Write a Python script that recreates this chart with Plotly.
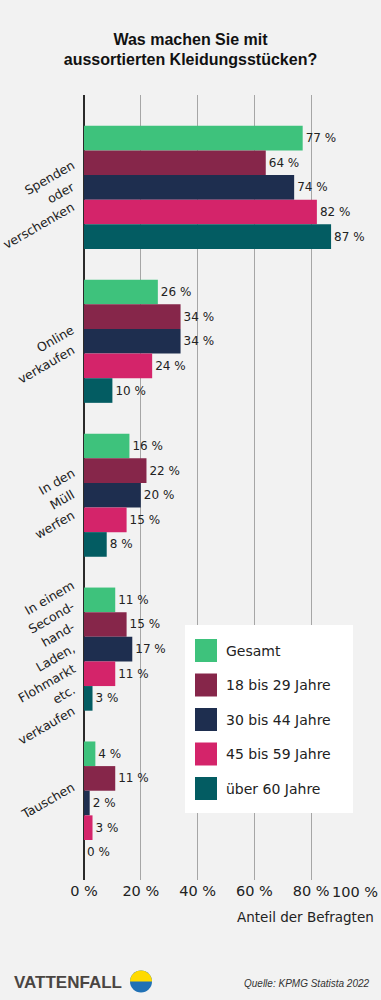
import plotly.graph_objects as go

categories = [
    "Spenden<br>oder<br>verschenken",
    "Online<br>verkaufen",
    "In den<br>Müll<br>werfen",
    "In einem<br>Second-<br>hand-<br>Laden,<br>Flohmarkt<br>etc.<br>verkaufen",
    "Tauschen",
]
series_names = ["Gesamt", "18 bis 29 Jahre", "30 bis 44 Jahre", "45 bis 59 Jahre", "über 60 Jahre"]
gesamt = [77, 26, 16, 11, 4]
j18_29 = [64, 34, 22, 15, 11]
j30_44 = [74, 34, 20, 17, 2]
j45_59 = [82, 24, 15, 11, 3]
ueber60 = [87, 10, 8, 3, 0]
series_values = [gesamt, j18_29, j30_44, j45_59, ueber60]
colors = ["#3ec27c", "#86264a", "#1e2e4f", "#d4246a", "#035c62"]
x_ticks = [0, 20, 40, 60, 80, 100]
x_ticktext = ["0 %", "20 %", "40 %", "60 %", "80 %", "100 %"]

FONT = "'DejaVu Sans', Verdana, sans-serif"
BOLD = "'Liberation Sans', Arial, sans-serif"
BG = "#f2f2f2"
TXT = "#222222"

W, H = 381, 1000
ML, MR, MT, MB = 84, 13, 95, 120
PW, PH = W - ML - MR, H - MT - MB


def px(xp):
    return (xp - ML) / PW


def py(yp):
    return (H - MB - yp) / PH


fig = go.Figure()
for name, vals, col in zip(series_names, series_values, colors):
    fig.add_trace(go.Bar(
        y=categories, x=vals, name=name, orientation="h",
        marker=dict(color=col, line=dict(width=0)),
        text=[f"{v} %" for v in vals], textposition="outside",
        textfont=dict(family=FONT, size=12, color=TXT),
        cliponaxis=False, showlegend=False,
    ))

# last tick label is drawn separately (right-aligned so it stays inside the frame)
shown_ticktext = x_ticktext[:-1] + [""]

fig.update_layout(
    width=W, height=H,
    paper_bgcolor=BG, plot_bgcolor=BG,
    margin=dict(l=ML, r=MR, t=MT, b=MB),
    barmode="group", bargap=0.2, bargroupgap=0,
    font=dict(family=FONT, color=TXT),
    title=dict(
        text="<b>Was machen Sie mit<br>aussortierten Kleidungsstücken?</b>",
        x=0.5, xanchor="center", y=0.9555, yanchor="middle",
        font=dict(family=BOLD, size=16, color="#111111"),
    ),
    xaxis=dict(
        range=[0, 100], tickvals=x_ticks, ticktext=shown_ticktext,
        showgrid=True, gridcolor="#a6a6a6", gridwidth=1,
        zeroline=True, zerolinecolor="#2a2a2a", zerolinewidth=1.5,
        tickfont=dict(family=FONT, size=14.5, color=TXT),
        ticks="", fixedrange=True,
    ),
    yaxis=dict(
        autorange=False, range=[4.5, -0.6],
        showticklabels=False, ticks="", showgrid=False, zeroline=False,
    ),
    showlegend=False,
)

fig.add_annotation(
    text=x_ticktext[-1], xref="x", yref="paper", x=x_ticks[-1], y=py(892),
    xanchor="right", yanchor="middle", xshift=12, showarrow=False,
    font=dict(family=FONT, size=14.5, color=TXT),
)

# category labels: each line rotated -30 deg, right ends aligned vertically
LINE_PITCH = 21
BOX_H = 18
for cat in categories:
    lines = cat.split("<br>")
    n = len(lines)
    c = -4 if n > 1 else -19
    for k, line in enumerate(lines):
        off = c + (k - (n - 1) / 2) * LINE_PITCH
        fig.add_annotation(
            text=line, xref="paper", yref="y", x=px(80), y=cat,
            xanchor="right", yanchor="top", showarrow=False, textangle=-30,
            yshift=0.433 * BOX_H - off,
            font=dict(family=FONT, size=12.5, color=TXT),
        )

# legend (drawn to match the reference's large swatches)
fig.add_shape(type="rect", xref="paper", yref="paper",
              x0=px(185), x1=px(353), y0=py(625), y1=py(813),
              fillcolor="#ffffff", line=dict(width=0), layer="above")
for i, (name, col) in enumerate(zip(series_names, colors)):
    top = 639 + i * 34.5
    fig.add_shape(type="rect", xref="paper", yref="paper",
                  x0=px(195), x1=px(217), y0=py(top), y1=py(top + 23),
                  fillcolor=col, line=dict(width=0), layer="above")
    fig.add_annotation(
        text=name, xref="paper", yref="paper", x=px(224), y=py(top + 11.5),
        xanchor="left", yanchor="middle", showarrow=False,
        font=dict(family=FONT, size=14, color=TXT),
    )

fig.add_annotation(
    text="Anteil der Befragten", xref="paper", yref="paper",
    x=px(376), y=py(917), xanchor="right", yanchor="middle", showarrow=False,
    font=dict(family=FONT, size=13.5, color=TXT),
)
fig.add_annotation(
    text="<b>VATTENFALL</b>", xref="paper", yref="paper",
    x=px(12), y=py(982), xanchor="left", yanchor="middle", showarrow=False,
    font=dict(family=BOLD, size=17, color="#4a4542"),
)
fig.add_annotation(
    text="<i>Quelle: KPMG Statista 2022</i>", xref="paper", yref="paper",
    x=px(372), y=py(983), xanchor="right", yanchor="middle", showarrow=False,
    font=dict(family=BOLD, size=10, color="#333333"),
)

# logo circle: blue disc with yellow upper half
cx, cy, r = px(141), py(981.5), 11
rx, ry = r / PW, r / PH
k = 0.5523
fig.add_shape(type="circle", xref="paper", yref="paper",
              x0=cx - rx, x1=cx + rx, y0=cy - ry, y1=cy + ry,
              fillcolor="#2071b5", line=dict(width=0))
fig.add_shape(
    type="path", xref="paper", yref="paper",
    path=(f"M {cx - rx},{cy} C {cx - rx},{cy + k * ry} {cx - k * rx},{cy + ry} {cx},{cy + ry} "
          f"C {cx + k * rx},{cy + ry} {cx + rx},{cy + k * ry} {cx + rx},{cy} Z"),
    fillcolor="#ffda00", line=dict(width=0))

fig.write_html(
    "out.html",
    config={"displayModeBar": False},
    post_script="document.body.style.margin='0';document.body.style.overflow='hidden';",
)
